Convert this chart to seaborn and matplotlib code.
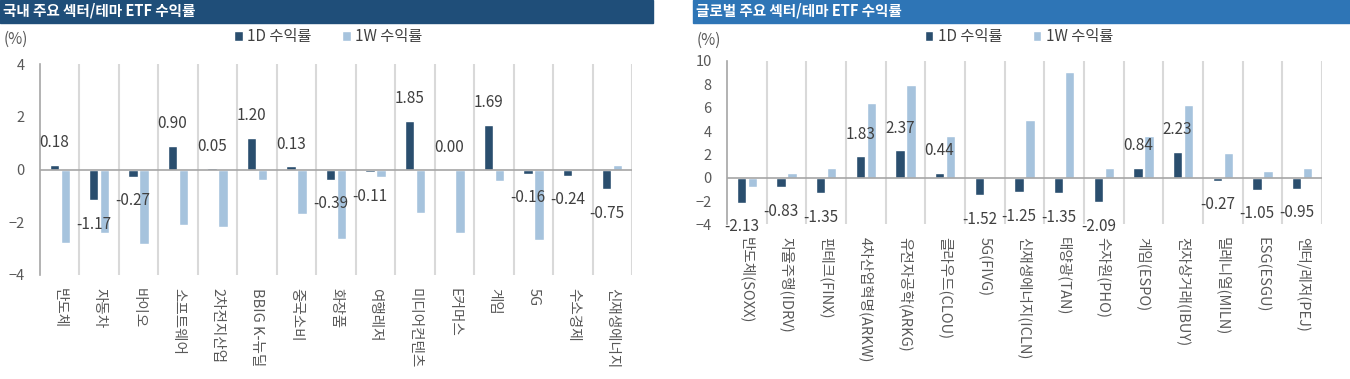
import matplotlib
matplotlib.use("Agg")
import matplotlib.pyplot as plt
from matplotlib.patches import Rectangle
import numpy as np
import pandas as pd
import seaborn as sns

# Data
kr_cats = ['반도체', '자동차', '바이오', '소프트웨어', '2차전지산업', 'BBIG K-뉴딜', '중국소비',
           '화장품', '여행레저', '미디어컨텐츠', 'E커머스', '게임', '5G', '수소경제', '신재생에너지']
kr_1d = [0.18, -1.17, -0.27, 0.90, 0.05, 1.20, 0.13, -0.39, -0.11, 1.85, 0.00, 1.69, -0.16, -0.24, -0.75]
kr_1w = [-2.78, -2.39, -2.81, -2.11, -2.18, -0.39, -1.69, -2.62, -0.29, -1.64, -2.39, -0.42, -2.68, 0.00, 0.18]

gl_cats = ['반도체(SOXX)', '자율주행(IDRV)', '핀테크(FINX)', '4차산업혁명(ARKW)', '유전자공학(ARKG)',
           '클라우드(CLOU)', '5G(FIVG)', '신재생에너지(ICLN)', '태양광(TAN)', '수자원(PHO)',
           '게임(ESPO)', '전자상거래(IBUY)', '밀레니얼(MILN)', 'ESG(ESGU)', '엔터/레저(PEJ)']
gl_1d = [-2.13, -0.83, -1.35, 1.83, 2.37, 0.44, -1.52, -1.25, -1.35, -2.09, 0.84, 2.23, -0.27, -1.05, -0.95]
gl_1w = [-0.77, 0.40, 0.86, 6.40, 7.94, 3.57, -0.08, 4.94, 9.03, 0.80, 3.57, 6.23, 2.11, 0.57, 0.83]

series = ['1D 수익률', '1W 수익률']
colors = ['#1F4E79', '#9DC3E6']

sns.set_style('white')
plt.rcParams['font.family'] = ['Noto Sans CJK KR', 'DejaVu Sans']

W, H = 1350, 379
fig = plt.figure(figsize=(W / 100, H / 100), dpi=100)


def px(x0, y_top, x1, y_bot):
    return [x0 / W, 1 - y_bot / H, (x1 - x0) / W, (y_bot - y_top) / H]


def draw_panel(rect, cats, d1, w1, ylim, yticks, title, bar_rect, bar_color, pct_xy, leg_anchor):
    ax = fig.add_axes(rect)
    df = pd.DataFrame({
        'cat': cats * 2,
        'val': d1 + w1,
        'series': [series[0]] * len(cats) + [series[1]] * len(cats),
    })
    sns.barplot(data=df, x='cat', y='val', hue='series', palette=colors,
                width=0.56, gap=0.15, ax=ax, zorder=2)

    ax.set_ylim(*ylim)
    ax.set_xlim(-0.5, len(cats) - 0.5)
    ax.set_yticks(yticks)
    ax.set_xlabel('')
    ax.set_ylabel('')

    # category separators
    ax.set_xticks(np.arange(0.5, len(cats), 1), minor=True)
    ax.grid(axis='x', which='minor', color='#d9d9d9', lw=1.5, zorder=0)
    ax.grid(axis='x', which='major', visible=False)
    ax.axhline(0, color='#a6a6a6', lw=1.2, zorder=3)

    for s in ['top', 'right', 'bottom']:
        ax.spines[s].set_visible(False)
    ax.spines['left'].set_color('#a6a6a6')
    ax.spines['left'].set_linewidth(1.2)
    ax.tick_params(axis='y', direction='in', length=5, color='#a6a6a6',
                   labelsize=10.5, labelcolor='#595959', pad=11)
    ax.tick_params(axis='x', which='both', length=0)
    ax.tick_params(axis='x', which='major', labelsize=10.5, labelcolor='#595959', pad=9)
    plt.setp(ax.get_xticklabels(), rotation=270, ha='center', va='top')

    # value labels on the 1D series
    for bar, v in zip(ax.containers[0], d1):
        x = bar.get_x() + bar.get_width() / 2
        off = 22 if v >= 0 else -24
        ax.annotate(f'{v:.2f}', xy=(x, v), xytext=(0, off), textcoords='offset pixels',
                    ha='center', va='center', fontsize=11, color='#404040', zorder=4)

    sns.move_legend(ax, 'center', bbox_to_anchor=leg_anchor, ncol=2, frameon=False,
                    title=None, fontsize=11, handlelength=0.55, handleheight=0.55,
                    handletextpad=0.3, columnspacing=2.0, labelcolor='#404040')

    fig.patches.append(Rectangle((bar_rect[0], bar_rect[1]), bar_rect[2], bar_rect[3],
                                 transform=fig.transFigure, color=bar_color, zorder=0))
    fig.text(bar_rect[0] + 3 / W, 1 - 11 / H, title, color='white', fontsize=10.5,
             fontweight='bold', ha='left', va='center')
    fig.text(pct_xy[0] / W, 1 - pct_xy[1] / H, '(%)', ha='center', va='center',
             fontsize=11, color='#595959')
    return ax


draw_panel(px(40, 64, 632, 275), kr_cats, kr_1d, kr_1w, (-4, 4), [-4, -2, 0, 2, 4],
           '국내 주요 섹터/테마 ETF 수익률', (0, 1 - 23 / H, 653 / W, 23 / H), '#1F4E79',
           (16, 39), (0.487, 1.128))
draw_panel(px(727, 61, 1322, 224.4), gl_cats, gl_1d, gl_1w, (-4, 10), list(range(-4, 11, 2)),
           '글로벌 주요 섹터/테마 ETF 수익률', (693 / W, 1 - 23 / H, 657 / W, 23 / H), '#2E75B6',
           (709, 40), (0.491, 1.147))

fig.savefig('out.png', dpi=100)
